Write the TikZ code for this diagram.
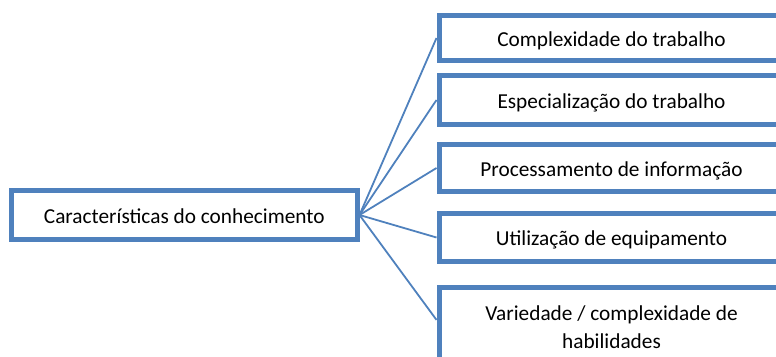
\documentclass[tikz,border=0pt]{standalone}
\usepackage{fontspec}
\setmainfont{Carlito}
\usetikzlibrary{calc}
\definecolor{boxblue}{HTML}{4F81BD}
\tikzset{
  box/.style={draw=boxblue, line width=5pt, fill=white, inner sep=0pt,
    align=center, font=\fontsize{21.3}{28}\selectfont},
  onebox/.style={box, text height=16pt, text depth=0pt},
  conn/.style={draw=boxblue, line width=1.8pt}
}
\begin{document}
\begin{tikzpicture}[x=1pt,y=-1pt]
\useasboundingbox (0,0) rectangle (776,356);
\node[onebox, minimum width=345.5pt, minimum height=49pt] (a) at (184.25,215) {Características do conhecimento};
\node[onebox, minimum width=345pt, minimum height=45pt] (b1) at (611.5,38) {Complexidade do trabalho};
\node[onebox, minimum width=345pt, minimum height=49pt] (b2) at (611.5,100) {Especialização do trabalho};
\node[onebox, minimum width=345pt, minimum height=47pt] (b3) at (611.5,168) {Processamento de informação};
\node[onebox, minimum width=345pt, minimum height=48pt] (b4) at (611.5,237.5) {Utilização de equipamento};
\node[box, minimum width=345pt, minimum height=79.5pt] (b5) at (611.5,327.5) {Variedade / complexidade de\\habilidades};
\coordinate (b5w) at ($(b5.north west)!0.41!(b5.south west)$);
\draw[conn] (a.east) -- (b1.west);
\draw[conn] (a.east) -- (b2.west);
\draw[conn] (a.east) -- (b3.west);
\draw[conn] (a.east) -- (b4.west);
\draw[conn] (a.east) -- (b5w);
\end{tikzpicture}
\end{document}
